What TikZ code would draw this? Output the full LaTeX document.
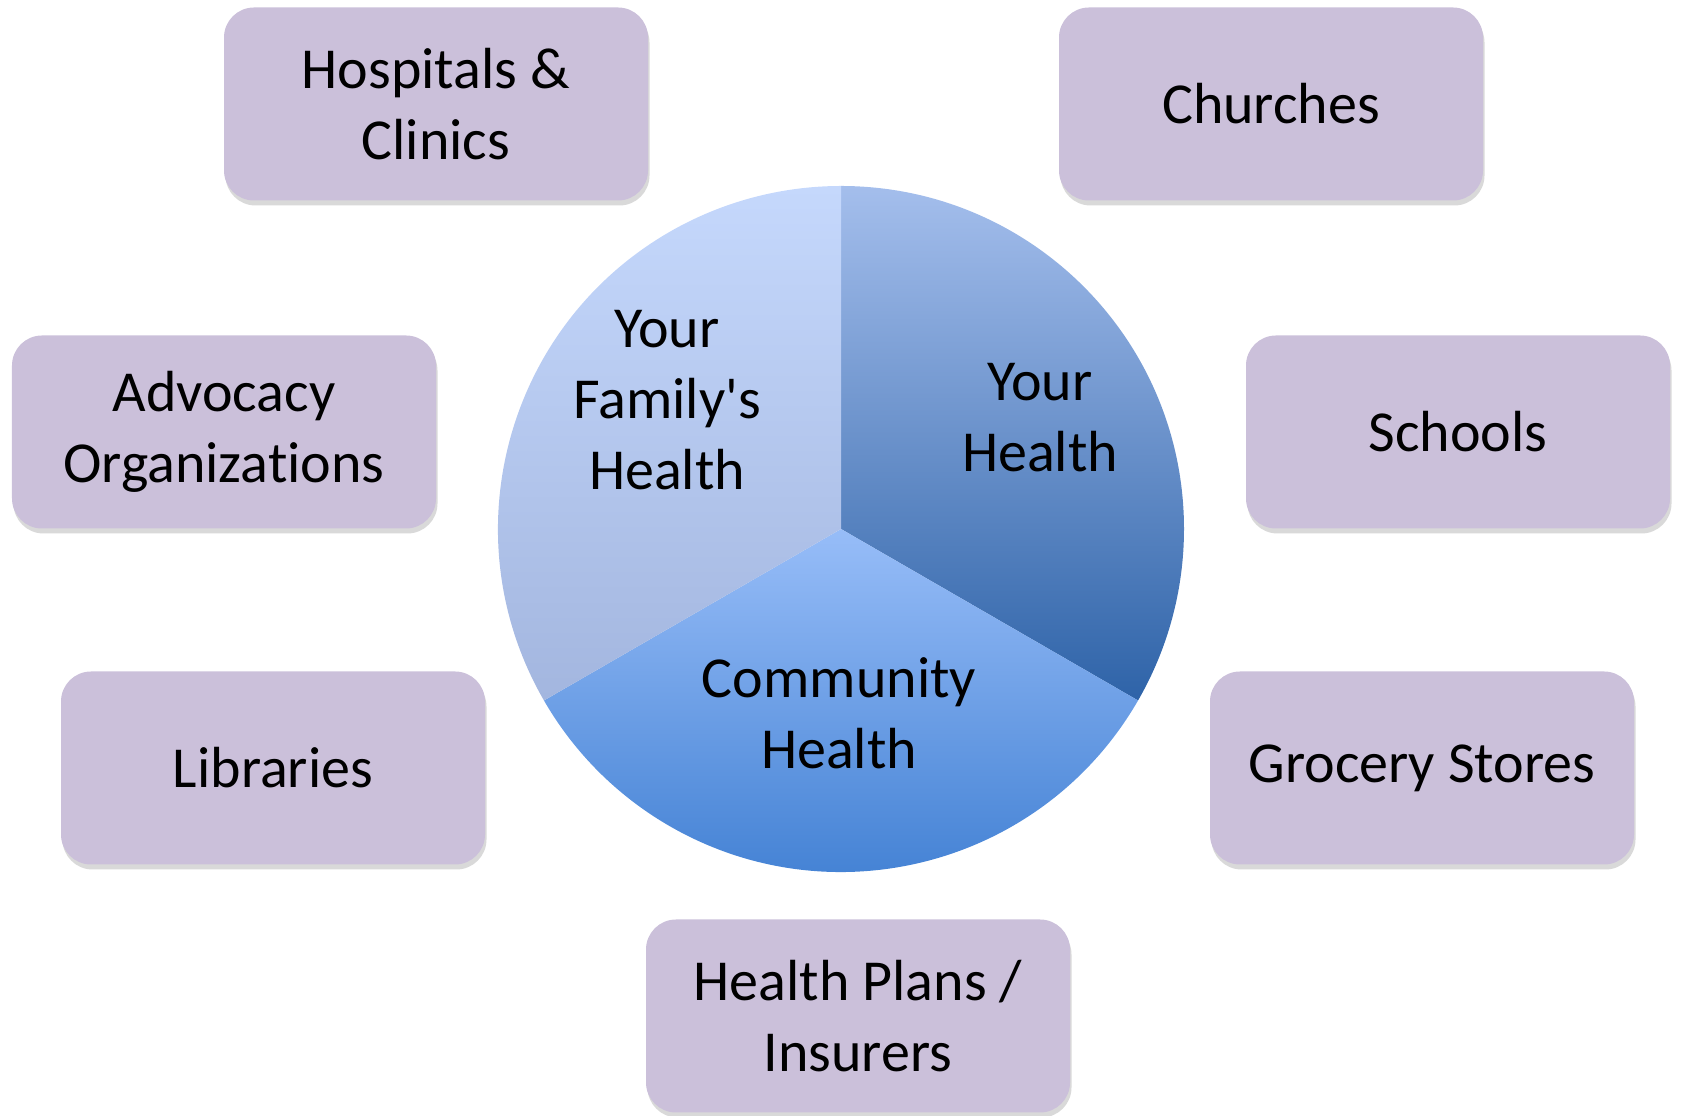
\documentclass[tikz,border=0pt]{standalone}
\usepackage{fontspec}
\setmainfont{Carlito}[Ligatures=NoCommon]
\usetikzlibrary{shapes,positioning,shadows}
\definecolor{boxlilac}{RGB}{203,192,218}
\definecolor{selftop}{RGB}{164,190,236}
\definecolor{selfbot}{RGB}{46,99,168}
\definecolor{commtop}{RGB}{151,189,248}
\definecolor{commbot}{RGB}{58,123,208}
\definecolor{famtop}{RGB}{197,216,252}
\definecolor{fambot}{RGB}{163,182,223}

\begin{document}
\begin{tikzpicture}[
    partner/.style={rectangle, rounded corners=0.6cm, fill=boxlilac,
        minimum width=8.48cm, minimum height=3.86cm, align=center,
        font=\fontsize{33}{40.5}\selectfont,
        drop shadow={shadow xshift=0.03cm, shadow yshift=-0.1cm, opacity=0.25, fill=black!60}},
    slice/.style={align=center, font=\fontsize{33}{40.5}\selectfont}
]

% page frame
\useasboundingbox (0,0) rectangle (33.62,22.32);

% === PIE IN THE MIDDLE ===
% center at (16.82,11.74), radius 6.86, three equal slices
\def\r{6.86}
\coordinate (pie) at (16.82, 11.74);

\shade[top color=selftop, bottom color=selfbot]
    (pie) -- ++(90:\r) arc[start angle=90, end angle=-30, radius=\r] -- cycle;
\shade[top color=commtop, bottom color=commbot]
    (pie) -- ++(-30:\r) arc[start angle=-30, end angle=-150, radius=\r] -- cycle;
\shade[top color=famtop, bottom color=fambot]
    (pie) -- ++(210:\r) arc[start angle=210, end angle=90, radius=\r] -- cycle;

\node[slice] (self-label) at (20.80, 13.96) {Your\\Health};
\node[slice] (family-label) at (13.34, 14.32) {Your\\Family\textquotesingle s\\Health};
\node[slice] (community-label) at (16.78, 8.06) {Community\\Health};

% === PARTNERS AROUND THE PIE ===
% left column
\node[partner] (hospitals) at (8.72, 20.24) {Hospitals \&\\Clinics};
\node[partner] (advocacy) at (4.48, 13.68) {Advocacy\\Organizations};
\node[partner] (libraries) at (5.46, 6.96) {Libraries};

% right column
\node[partner] (churches) at (25.42, 20.24) {Churches};
\node[partner] (schools) at (29.16, 13.68) {Schools};
\node[partner] (grocery) at (28.44, 6.96) {Grocery Stores};

% bottom
\node[partner] (insurers) at (17.16, 2.00) {Health Plans /\\Insurers};

\end{tikzpicture}
\end{document}
